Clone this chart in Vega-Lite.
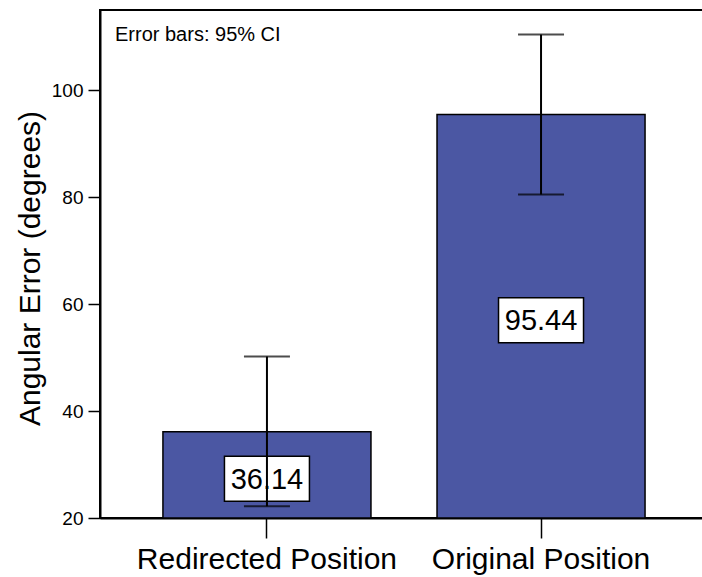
{
  "$schema": "https://vega.github.io/schema/vega-lite/v6.json",
  "autosize": "none",
  "width": 606,
  "height": 508,
  "padding": {"left": 100, "top": 10, "right": 0, "bottom": 59},
  "background": "white",
  "config": {
    "font": "Liberation Sans",
    "view": {"stroke": "black", "strokeWidth": 2},
    "axis": {"grid": false, "domainColor": "black", "domainWidth": 2, "tickColor": "black", "tickWidth": 1.5, "labelColor": "black", "titleColor": "black", "titleFontWeight": "normal"}
  },
  "title": {
    "text": "Error bars: 95% CI",
    "anchor": "start",
    "frame": "group",
    "orient": "top",
    "offset": 0,
    "dx": 15,
    "dy": 35,
    "baseline": "top",
    "fontSize": 20,
    "fontWeight": "normal",
    "color": "black",
    "font": "Liberation Sans"
  },
  "data": {
    "values": [
      {"condition": "Redirected Position", "mean": 36.14, "lower": 22.2, "upper": 50.2},
      {"condition": "Original Position", "mean": 95.44, "lower": 80.5, "upper": 110.4}
    ]
  },
  "transform": [{"calculate": "(datum.mean + 20) / 2", "as": "mid"}],
  "encoding": {
    "x": {
      "field": "condition",
      "type": "nominal",
      "sort": ["Redirected Position", "Original Position"],
      "scale": {"paddingInner": 0.241, "paddingOuter": 0.226, "align": 0.508},
      "axis": {"title": null, "labelAngle": 0, "labelLimit": 0, "tickSize": 20, "labelPadding": 6, "labelFontSize": 30, "labelFont": "Liberation Sans"}
    }
  },
  "layer": [
    {
      "mark": {"type": "bar", "fill": "#4B57A3", "stroke": "black", "strokeWidth": 1.5},
      "encoding": {
        "y": {
          "field": "mean",
          "type": "quantitative",
          "scale": {"domain": [20, 115], "nice": false, "zero": false},
          "axis": {
            "title": "Angular Error (degrees)",
            "values": [20, 40, 60, 80, 100],
            "tickSize": 12,
            "labelPadding": 5,
            "labelFontSize": 19,
            "titleFontSize": 30,
            "titleX": -70,
            "titleY": 258,
            "titleAngle": -90,
            "titleBaseline": "middle",
            "titleAlign": "center"
          }
        },
        "y2": {"datum": 20}
      }
    },
    {
      "mark": {"type": "point", "shape": "M-1,-0.53H1V0.53H-1Z", "size": 7225, "filled": true, "fill": "white", "stroke": "black", "strokeWidth": 1.5, "opacity": 1, "yOffset": 4},
      "encoding": {"y": {"field": "mid", "type": "quantitative"}}
    },
    {
      "mark": {"type": "text", "fontSize": 29, "font": "Liberation Sans", "color": "black", "baseline": "middle", "align": "center", "yOffset": 5},
      "encoding": {"y": {"field": "mid", "type": "quantitative"}, "text": {"field": "mean", "type": "quantitative", "format": ".2f"}}
    },
    {
      "mark": {"type": "rule", "color": "black", "strokeWidth": 2},
      "encoding": {"y": {"field": "lower", "type": "quantitative"}, "y2": {"field": "upper"}}
    },
    {
      "mark": {"type": "tick", "color": "black", "thickness": 2, "size": 46},
      "encoding": {"y": {"field": "lower", "type": "quantitative"}}
    },
    {
      "mark": {"type": "tick", "color": "black", "thickness": 2, "size": 46},
      "encoding": {"y": {"field": "upper", "type": "quantitative"}}
    }
  ]
}
